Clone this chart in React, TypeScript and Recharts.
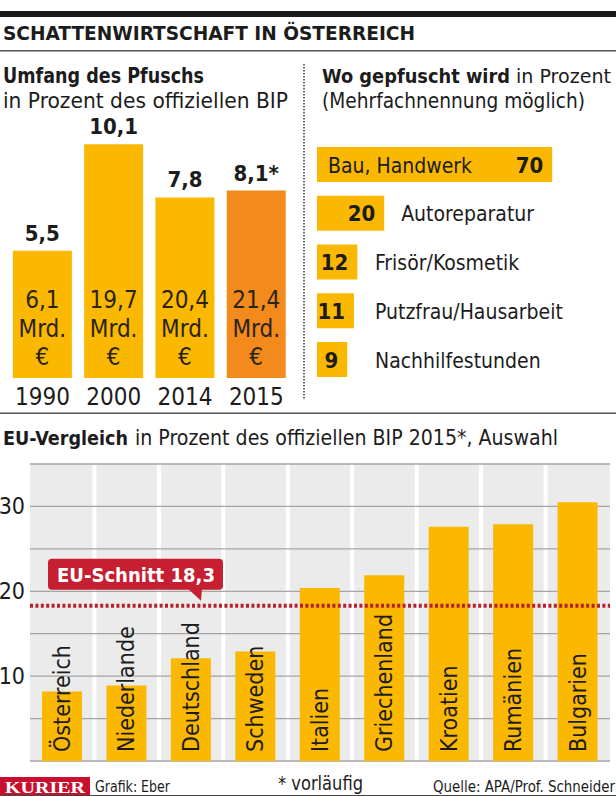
import React from 'react';
import { BarChart, Bar, XAxis, YAxis, CartesianGrid, LabelList, Cell, ReferenceLine } from 'recharts';

const FONT = "'Liberation Sans Narrow','DejaVu Sans Condensed','Roboto Condensed',Roboto,sans-serif";
const YELLOW = '#fbb800';
const ORANGE = '#f28a1c';
const RED = '#c51f31';
const INK = '#1c1c1c';

// --- Umfang des Pfuschs (in % des BIP) ---
const years = ['1990', '2000', '2014', '2015'];
const sharePct = [5.5, 10.1, 7.8, 8.1];
const amountBn = ['6,1', '19,7', '20,4', '21,4'];
const provisionalYears = ['2015'];

// --- Wo gepfuscht wird ---
const sectors = ['Bau, Handwerk', 'Autoreparatur', 'Frisör/Kosmetik', 'Putzfrau/Hausarbeit', 'Nachhilfestunden'];
const sectorPct = [70, 20, 12, 11, 9];

// --- EU-Vergleich ---
const countries = ['Österreich', 'Niederlande', 'Deutschland', 'Schweden', 'Italien', 'Griechenland', 'Kroatien', 'Rumänien', 'Bulgarien'];
const countryPct = [8.2, 8.9, 12.1, 12.9, 20.4, 21.9, 27.6, 27.9, 30.5];
const euAverage = 18.3;
const euTicks = [0, 5, 10, 15, 20, 25, 30, 35];
const euLabeledTicks = [10, 20, 30];

const fmt = (v: number) => v.toFixed(1).replace('.', ',');

const yearData = years.map((y, i) => ({ year: y, pct: sharePct[i], amount: amountBn[i] }));
const sectorData = sectors.map((s, i) => ({ sector: s, pct: sectorPct[i] }));
const euData = countries.map((c, i) => ({ country: c, pct: countryPct[i] }));

const YearTick = (p: any) => (
  <text x={p.x} y={p.y} dy={27} textAnchor="middle" fontFamily={FONT} fontSize={24} fill={INK}>
    {p.payload.value}
  </text>
);

const TopValueLabel = (p: any) => {
  const star = provisionalYears.includes(years[p.index]) ? '*' : '';
  return (
    <text x={p.x + p.width / 2} y={p.y - 10} textAnchor="middle" fontFamily={FONT} fontWeight="bold" fontSize={22} fill={INK}>
      {fmt(p.value) + star}
    </text>
  );
};

const AmountLabel = (p: any) => {
  const cx = p.x + p.width / 2;
  const bottom = p.y + p.height;
  return (
    <text textAnchor="middle" fontFamily={FONT} fontSize={24} fill="#2a2418">
      <tspan x={cx} y={bottom - 70}>{p.value}</tspan>
      <tspan x={cx} y={bottom - 41}>Mrd.</tspan>
      <tspan x={cx} y={bottom - 13}>€</tspan>
    </text>
  );
};

const SectorLabel = (p: any) => {
  const { x, y, width, height, index, value } = p;
  const cy = y + height / 2;
  const inside = width > 150;
  const nameX = inside ? x + 11 : Math.max(x + 58, x + width + 17);
  return (
    <g fontFamily={FONT} fill={INK}>
      <text x={x + width - 9} y={cy + 8} textAnchor="end" fontWeight="bold" fontSize={22}>{value}</text>
      <text x={nameX} y={cy + 8} fontSize={21}>{sectors[index]}</text>
    </g>
  );
};

const EuTick = (p: any) => {
  if (!euLabeledTicks.includes(p.payload.value)) return <g />;
  return (
    <text x={p.x - 5} y={p.y + 8} textAnchor="end" fontFamily={FONT} fontSize={23} fill={INK}>
      {p.payload.value}
    </text>
  );
};

const CountryLabel = (p: any) => {
  const cx = p.x + p.width / 2;
  const by = p.y + p.height - 9;
  return (
    <text
      x={cx}
      y={by}
      transform={`rotate(-90 ${cx} ${by})`}
      textAnchor="start"
      dominantBaseline="central"
      fontFamily={FONT}
      fontSize={23}
      fill={INK}
    >
      {p.value}
    </text>
  );
};

const EuLabel = (p: any) => {
  const vb = p.viewBox || {};
  const x0 = vb.x;
  const ly = vb.y;
  return (
    <g>
      <rect x={x0 + 18} y={ly - 47} width={175} height={31} rx={4} fill={RED} />
      <polygon points={`${x0 + 158},${ly - 17} ${x0 + 172},${ly - 17} ${x0 + 171},${ly - 5}`} fill={RED} />
      <text x={x0 + 27} y={ly - 24} fontFamily={FONT} fontWeight="bold" fontSize={20} fill="#fff" textLength={158} lengthAdjust="spacingAndGlyphs">
        {'EU-Schnitt ' + fmt(euAverage)}
      </text>
    </g>
  );
};

const bandSeparators = (arg: any) => {
  const n = countries.length;
  const sc = arg?.xAxis?.scale;
  if (sc && typeof sc === 'function' && typeof sc(countries[1]) === 'number') {
    return countries.slice(1).map((c) => sc(c));
  }
  const o = arg?.offset || { left: 30, width: 580 };
  return countries.slice(1).map((_, i) => o.left + ((i + 1) * o.width) / n);
};

const Overlay = () => (
  <svg width={616} height={796} style={{ position: 'absolute', left: 0, top: 0, pointerEvents: 'none' }} fontFamily={FONT} fill={INK}>
    <rect x={0} y={11} width={616} height={6} fill="#1a1a1a" />
    <text x={3} y={40} fontWeight="bold" fontSize={20} textLength={412} lengthAdjust="spacingAndGlyphs">SCHATTENWIRTSCHAFT IN ÖSTERREICH</text>
    <rect x={0} y={50} width={616} height={1.5} fill="#555" />

    <text x={3} y={83} fontWeight="bold" fontSize={21} textLength={201} lengthAdjust="spacingAndGlyphs">Umfang des Pfuschs</text>
    <text x={3} y={108} fontSize={21} textLength={285} lengthAdjust="spacingAndGlyphs">in Prozent des offiziellen BIP</text>

    <line x1={304} y1={64} x2={304} y2={400} stroke="#444" strokeWidth={1.6} strokeDasharray="1.6 1.4" />

    <text x={322} y={83} fontWeight="bold" fontSize={20} textLength={188} lengthAdjust="spacingAndGlyphs">Wo gepfuscht wird</text>
    <text x={516} y={83} fontSize={20} textLength={95} lengthAdjust="spacingAndGlyphs">in Prozent</text>
    <text x={322} y={108} fontSize={21} textLength={263} lengthAdjust="spacingAndGlyphs">(Mehrfachnennung möglich)</text>

    <rect x={0} y={412.5} width={616} height={1.5} fill="#555" />
    <text x={3} y={445} fontWeight="bold" fontSize={20} textLength={125} lengthAdjust="spacingAndGlyphs">EU-Vergleich</text>
    <text x={135} y={445} fontSize={21} textLength={423} lengthAdjust="spacingAndGlyphs">in Prozent des offiziellen BIP 2015*, Auswahl</text>

    <rect x={0} y={777} width={90} height={18} fill="#c8102e" />
    <text x={5} y={793} fontFamily="'Liberation Serif','DejaVu Serif',serif" fontWeight="bold" fontSize={17} fill="#fff" textLength={80} lengthAdjust="spacingAndGlyphs">KURIER</text>
    <text x={95} y={792} fontSize={15} textLength={75} lengthAdjust="spacingAndGlyphs">Grafik: Eber</text>
    <text x={278} y={790} fontSize={20} textLength={85} lengthAdjust="spacingAndGlyphs">* vorläufig</text>
    <text x={433} y={792} fontSize={15} textLength={182} lengthAdjust="spacingAndGlyphs">Quelle: APA/Prof. Schneider</text>
    <rect x={0} y={795} width={616} height={1.5} fill="#444" />
  </svg>
);

export default function App() {
  return (
    <div style={{ position: 'absolute', left: 0, top: 0, width: 616, height: 796, background: '#fff', overflow: 'hidden', fontFamily: FONT }}>
      <div style={{ position: 'absolute', left: 0, top: 100 }}>
        <BarChart width={300} height={330} data={yearData} margin={{ top: 23.4, right: 8, bottom: 12, left: 6.85 }}>
          <XAxis dataKey="year" axisLine={false} tickLine={false} tickSize={0} tickMargin={0} height={40} tick={<YearTick />} interval={0} />
          <YAxis hide domain={[0, 11]} allowDataOverflow />
          <Bar dataKey="pct" barSize={59} isAnimationActive={false}>
            {yearData.map((d) => (
              <Cell key={d.year} fill={provisionalYears.includes(d.year) ? ORANGE : YELLOW} />
            ))}
            <LabelList dataKey="pct" content={TopValueLabel} />
            <LabelList dataKey="amount" content={AmountLabel} />
          </Bar>
        </BarChart>
      </div>

      <div style={{ position: 'absolute', left: 300, top: 130 }}>
        <BarChart layout="vertical" width={316} height={260} data={sectorData} margin={{ top: 10.1, right: 13.4, bottom: 6.15, left: 17 }}>
          <XAxis type="number" hide domain={[0, 85]} allowDataOverflow />
          <YAxis type="category" dataKey="sector" hide />
          <Bar dataKey="pct" fill={YELLOW} barSize={35} isAnimationActive={false}>
            <LabelList dataKey="pct" content={SectorLabel} />
          </Bar>
        </BarChart>
      </div>

      <div style={{ position: 'absolute', left: 0, top: 440 }}>
        <BarChart width={616} height={330} data={euData} margin={{ top: 24, right: 6, bottom: 9, left: 0 }}>
          <CartesianGrid fill="#ebebeb" horizontal={false} vertical verticalCoordinatesGenerator={bandSeparators} stroke="#ffffff" strokeWidth={4} />
          <CartesianGrid vertical={false} stroke="#a5a5a5" strokeWidth={1.3} />
          <XAxis dataKey="country" hide />
          <YAxis width={30} domain={[0, 35]} ticks={euTicks} allowDataOverflow axisLine={false} tickLine={false} tickSize={0} tickMargin={0} tick={<EuTick />} interval={0} />
          <Bar dataKey="pct" fill={YELLOW} barSize={40} isAnimationActive={false}>
            <LabelList dataKey="country" content={CountryLabel} />
          </Bar>
          <ReferenceLine y={euAverage} stroke="#b8202f" strokeWidth={4} strokeDasharray="3 2.4" label={<EuLabel />} ifOverflow="visible" />
        </BarChart>
      </div>

      <Overlay />
    </div>
  );
}
